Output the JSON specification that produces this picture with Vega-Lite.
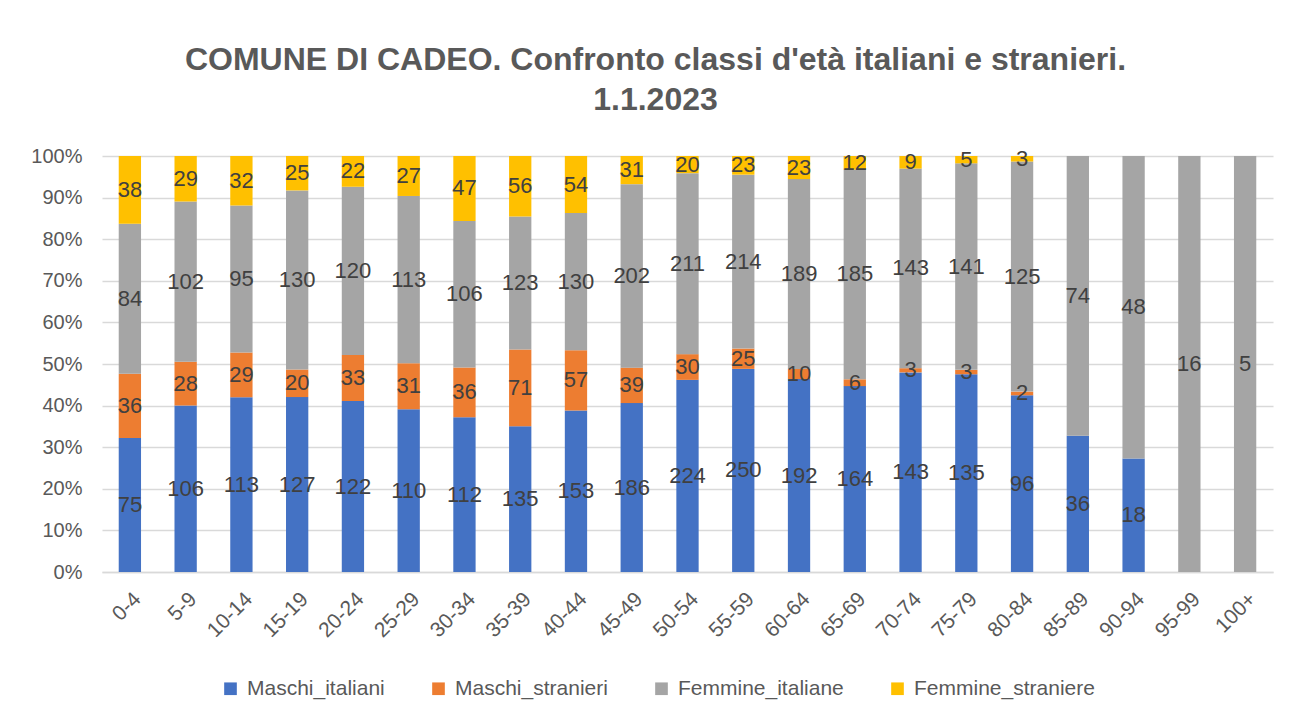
{
  "$schema": "https://vega.github.io/schema/vega-lite/v6.json",
  "autosize": "none",
  "width": 1171,
  "height": 416,
  "padding": {"left": 102, "top": 156, "right": 17, "bottom": 150},
  "background": "white",
  "config": {
    "view": {"stroke": null},
    "font": "Liberation Sans",
    "text": {"font": "Liberation Sans"}
  },
  "title": {
    "text": ["COMUNE DI CADEO. Confronto classi d'età italiani e stranieri.", "1.1.2023"],
    "font": "Liberation Sans",
    "fontSize": 32,
    "fontWeight": "bold",
    "color": "#595959",
    "lineHeight": 40,
    "anchor": "middle",
    "dx": -32,
    "offset": 29
  },
  "data": {
    "values": [
      {"a": "0-4", "s": "Maschi_italiani", "v": 75},
      {"a": "0-4", "s": "Maschi_stranieri", "v": 36},
      {"a": "0-4", "s": "Femmine_italiane", "v": 84},
      {"a": "0-4", "s": "Femmine_straniere", "v": 38},
      {"a": "5-9", "s": "Maschi_italiani", "v": 106},
      {"a": "5-9", "s": "Maschi_stranieri", "v": 28},
      {"a": "5-9", "s": "Femmine_italiane", "v": 102},
      {"a": "5-9", "s": "Femmine_straniere", "v": 29},
      {"a": "10-14", "s": "Maschi_italiani", "v": 113},
      {"a": "10-14", "s": "Maschi_stranieri", "v": 29},
      {"a": "10-14", "s": "Femmine_italiane", "v": 95},
      {"a": "10-14", "s": "Femmine_straniere", "v": 32},
      {"a": "15-19", "s": "Maschi_italiani", "v": 127},
      {"a": "15-19", "s": "Maschi_stranieri", "v": 20},
      {"a": "15-19", "s": "Femmine_italiane", "v": 130},
      {"a": "15-19", "s": "Femmine_straniere", "v": 25},
      {"a": "20-24", "s": "Maschi_italiani", "v": 122},
      {"a": "20-24", "s": "Maschi_stranieri", "v": 33},
      {"a": "20-24", "s": "Femmine_italiane", "v": 120},
      {"a": "20-24", "s": "Femmine_straniere", "v": 22},
      {"a": "25-29", "s": "Maschi_italiani", "v": 110},
      {"a": "25-29", "s": "Maschi_stranieri", "v": 31},
      {"a": "25-29", "s": "Femmine_italiane", "v": 113},
      {"a": "25-29", "s": "Femmine_straniere", "v": 27},
      {"a": "30-34", "s": "Maschi_italiani", "v": 112},
      {"a": "30-34", "s": "Maschi_stranieri", "v": 36},
      {"a": "30-34", "s": "Femmine_italiane", "v": 106},
      {"a": "30-34", "s": "Femmine_straniere", "v": 47},
      {"a": "35-39", "s": "Maschi_italiani", "v": 135},
      {"a": "35-39", "s": "Maschi_stranieri", "v": 71},
      {"a": "35-39", "s": "Femmine_italiane", "v": 123},
      {"a": "35-39", "s": "Femmine_straniere", "v": 56},
      {"a": "40-44", "s": "Maschi_italiani", "v": 153},
      {"a": "40-44", "s": "Maschi_stranieri", "v": 57},
      {"a": "40-44", "s": "Femmine_italiane", "v": 130},
      {"a": "40-44", "s": "Femmine_straniere", "v": 54},
      {"a": "45-49", "s": "Maschi_italiani", "v": 186},
      {"a": "45-49", "s": "Maschi_stranieri", "v": 39},
      {"a": "45-49", "s": "Femmine_italiane", "v": 202},
      {"a": "45-49", "s": "Femmine_straniere", "v": 31},
      {"a": "50-54", "s": "Maschi_italiani", "v": 224},
      {"a": "50-54", "s": "Maschi_stranieri", "v": 30},
      {"a": "50-54", "s": "Femmine_italiane", "v": 211},
      {"a": "50-54", "s": "Femmine_straniere", "v": 20},
      {"a": "55-59", "s": "Maschi_italiani", "v": 250},
      {"a": "55-59", "s": "Maschi_stranieri", "v": 25},
      {"a": "55-59", "s": "Femmine_italiane", "v": 214},
      {"a": "55-59", "s": "Femmine_straniere", "v": 23},
      {"a": "60-64", "s": "Maschi_italiani", "v": 192},
      {"a": "60-64", "s": "Maschi_stranieri", "v": 10},
      {"a": "60-64", "s": "Femmine_italiane", "v": 189},
      {"a": "60-64", "s": "Femmine_straniere", "v": 23},
      {"a": "65-69", "s": "Maschi_italiani", "v": 164},
      {"a": "65-69", "s": "Maschi_stranieri", "v": 6},
      {"a": "65-69", "s": "Femmine_italiane", "v": 185},
      {"a": "65-69", "s": "Femmine_straniere", "v": 12},
      {"a": "70-74", "s": "Maschi_italiani", "v": 143},
      {"a": "70-74", "s": "Maschi_stranieri", "v": 3},
      {"a": "70-74", "s": "Femmine_italiane", "v": 143},
      {"a": "70-74", "s": "Femmine_straniere", "v": 9},
      {"a": "75-79", "s": "Maschi_italiani", "v": 135},
      {"a": "75-79", "s": "Maschi_stranieri", "v": 3},
      {"a": "75-79", "s": "Femmine_italiane", "v": 141},
      {"a": "75-79", "s": "Femmine_straniere", "v": 5},
      {"a": "80-84", "s": "Maschi_italiani", "v": 96},
      {"a": "80-84", "s": "Maschi_stranieri", "v": 2},
      {"a": "80-84", "s": "Femmine_italiane", "v": 125},
      {"a": "80-84", "s": "Femmine_straniere", "v": 3},
      {"a": "85-89", "s": "Maschi_italiani", "v": 36},
      {"a": "85-89", "s": "Femmine_italiane", "v": 74},
      {"a": "90-94", "s": "Maschi_italiani", "v": 18},
      {"a": "90-94", "s": "Femmine_italiane", "v": 48},
      {"a": "95-99", "s": "Femmine_italiane", "v": 16},
      {"a": "100+", "s": "Femmine_italiane", "v": 5}
    ]
  },
  "transform": [
    {"calculate": "indexof(['Maschi_italiani','Maschi_stranieri','Femmine_italiane','Femmine_straniere'], datum.s)", "as": "o"},
    {"stack": "v", "groupby": ["a"], "sort": [{"field": "o", "order": "ascending"}], "offset": "normalize", "as": ["y0", "y1"]},
    {"calculate": "(datum.y0 + datum.y1) / 2", "as": "ym"}
  ],
  "encoding": {
    "x": {
      "field": "a",
      "type": "nominal",
      "sort": null,
      "scale": {"paddingInner": 0.6, "paddingOuter": 0.3},
      "axis": {
        "title": null,
        "labelAngle": -45,
        "labelFontSize": 21,
        "labelColor": "#595959",
        "labelFont": "Liberation Sans",
        "ticks": false,
        "domainColor": "#d9d9d9",
        "domainWidth": 1.5,
        "labelPadding": 16
      }
    }
  },
  "layer": [
    {
      "mark": {"type": "bar"},
      "encoding": {
        "y": {
          "field": "y0",
          "type": "quantitative",
          "scale": {"domain": [0, 1], "nice": false},
          "axis": {
            "title": null,
            "format": ".0%",
            "values": [0, 0.1, 0.2, 0.3, 0.4, 0.5, 0.6, 0.7, 0.8, 0.9, 1],
            "domain": false,
            "ticks": false,
            "gridColor": "#d9d9d9",
            "gridWidth": 1.5,
            "labelFontSize": 20,
            "labelColor": "#595959",
            "labelFont": "Liberation Sans",
            "labelPadding": 20
          }
        },
        "y2": {"field": "y1"},
        "color": {
          "field": "s",
          "type": "nominal",
          "scale": {
            "domain": ["Maschi_italiani", "Maschi_stranieri", "Femmine_italiane", "Femmine_straniere"],
            "range": ["#4472C4", "#ED7D31", "#A5A5A5", "#FFC000"]
          },
          "legend": {
            "title": null,
            "orient": "none",
            "direction": "horizontal",
            "legendX": 118,
            "legendY": 522,
            "symbolType": "square",
            "symbolSize": 160,
            "symbolStrokeWidth": 0,
            "labelFontSize": 21,
            "labelLimit": 400,
            "labelColor": "#595959",
            "labelFont": "Liberation Sans",
            "labelOffset": 6,
            "columnPadding": 43
          }
        }
      }
    },
    {
      "mark": {"type": "text", "fontSize": 22, "color": "#404040", "font": "Liberation Sans", "baseline": "middle"},
      "encoding": {
        "y": {"field": "ym", "type": "quantitative"},
        "text": {"field": "v", "type": "quantitative"}
      }
    }
  ]
}
